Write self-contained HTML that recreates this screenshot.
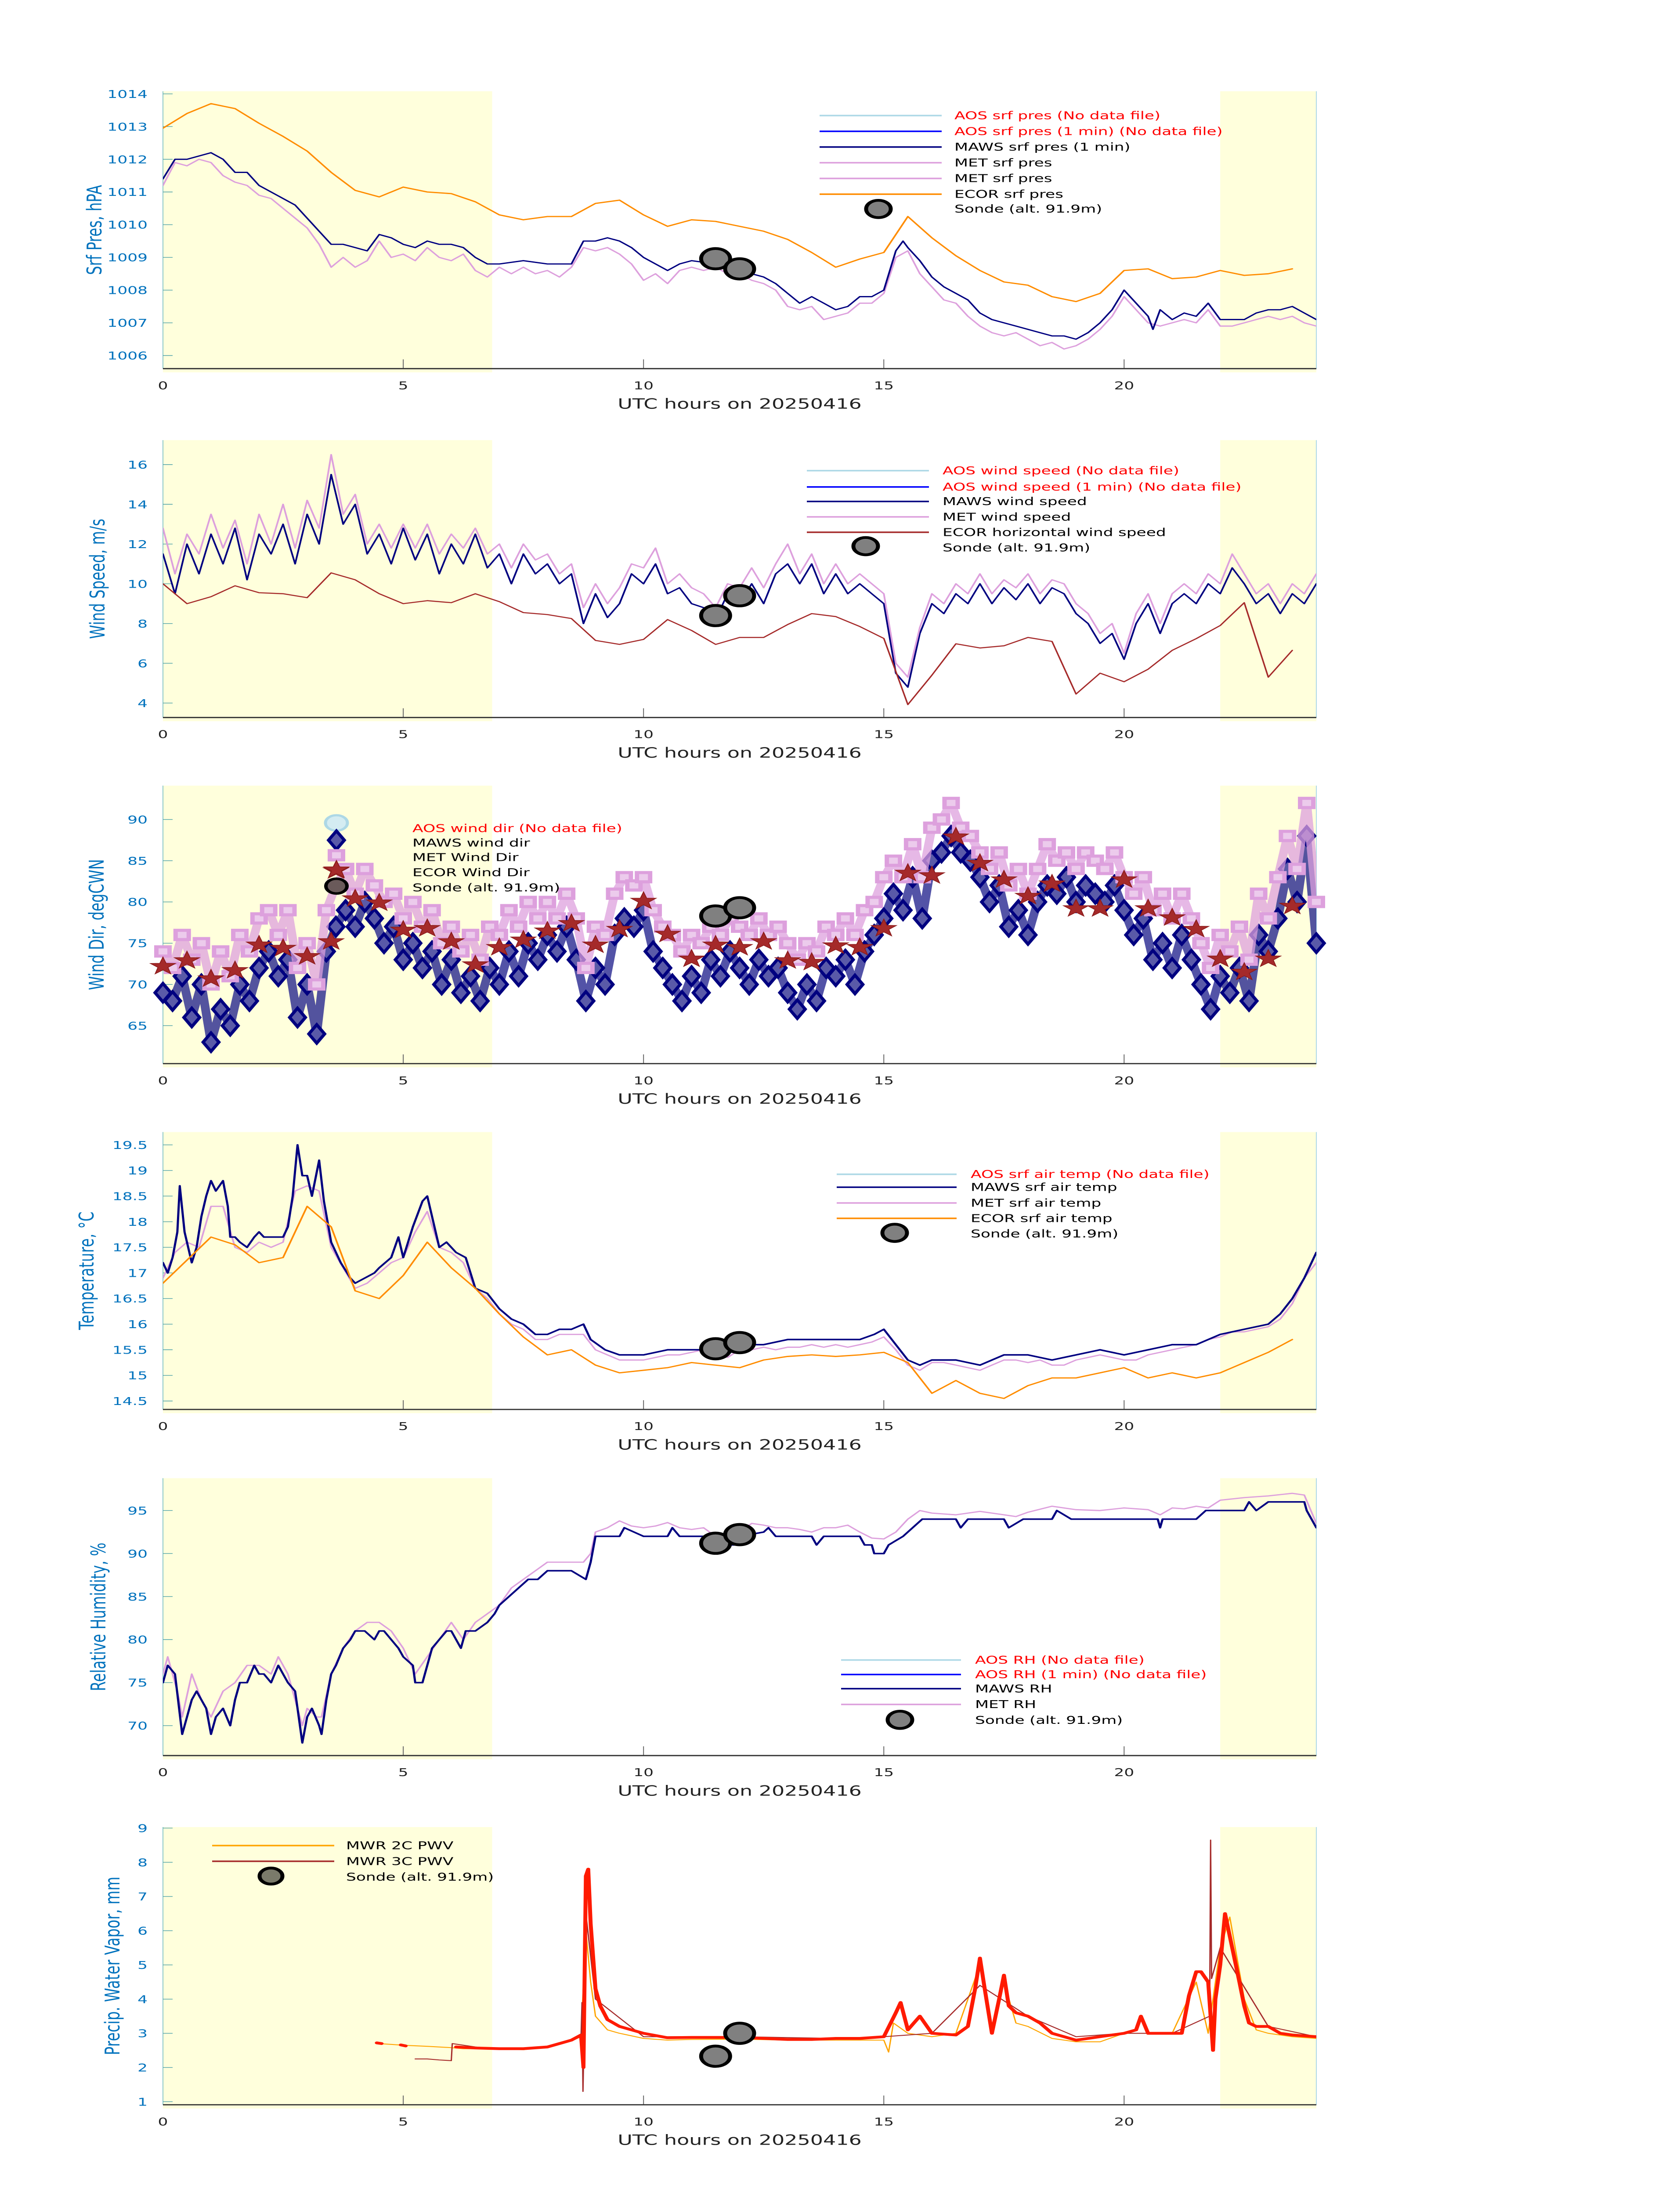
<!DOCTYPE html>
<html><head><meta charset="utf-8"><title>Surface met timeseries 20250416</title>
<style>
html,body{margin:0;padding:0;background:#fff;width:100%;height:100%;overflow:hidden;}
svg{display:block;position:absolute;left:0;top:0;width:100vw;height:100vh;font-family:"DejaVu Sans","Liberation Sans",sans-serif;}
</style></head>
<body>
<svg id="fig" xmlns="http://www.w3.org/2000/svg" viewBox="0 0 3825 7125" preserveAspectRatio="none">
<rect x="0" y="0" width="3825" height="7125" fill="#ffffff"/>
</svg>
<script>
// ---------- Panel 1: surface pressure ----------
const presMawsT = [0,0.25,0.5,0.75,1,1.25,1.5,1.75,2,2.25,2.5,2.75,3,3.25,3.5,3.75,4,4.25,4.5,4.75,5,5.25,5.5,5.75,6,6.25,6.5,6.75,7,7.5,8,8.5,8.75,9,9.25,9.5,9.75,10,10.25,10.5,10.75,11,11.5,12,12.25,12.5,12.75,13,13.25,13.5,13.75,14,14.25,14.5,14.75,15,15.25,15.4,15.5,15.75,16,16.25,16.5,16.75,17,17.25,17.5,17.75,18,18.25,18.5,18.75,19,19.25,19.5,19.75,20,20.25,20.5,20.6,20.75,21,21.25,21.5,21.75,22,22.25,22.5,22.75,23,23.25,23.5,23.75,24];
const presMaws = [1011.4,1012.0,1012.0,1012.1,1012.2,1012.0,1011.6,1011.6,1011.2,1011.0,1010.8,1010.6,1010.2,1009.8,1009.4,1009.4,1009.3,1009.2,1009.7,1009.6,1009.4,1009.3,1009.5,1009.4,1009.4,1009.3,1009.0,1008.8,1008.8,1008.9,1008.8,1008.8,1009.5,1009.5,1009.6,1009.5,1009.3,1009.0,1008.8,1008.6,1008.8,1008.9,1008.8,1008.7,1008.5,1008.4,1008.2,1007.9,1007.6,1007.8,1007.6,1007.4,1007.5,1007.8,1007.8,1008.0,1009.2,1009.5,1009.3,1008.9,1008.4,1008.1,1007.9,1007.7,1007.3,1007.1,1007.0,1006.9,1006.8,1006.7,1006.6,1006.6,1006.5,1006.7,1007.0,1007.4,1008.0,1007.6,1007.2,1006.8,1007.4,1007.1,1007.3,1007.2,1007.6,1007.1,1007.1,1007.1,1007.3,1007.4,1007.4,1007.5,1007.3,1007.1];
const presMet = [1011.2,1011.9,1011.8,1012.0,1011.9,1011.5,1011.3,1011.2,1010.9,1010.8,1010.5,1010.2,1009.9,1009.4,1008.7,1009.0,1008.7,1008.9,1009.5,1009.0,1009.1,1008.9,1009.3,1009.0,1008.9,1009.1,1008.6,1008.4,1008.7,1008.5,1008.7,1008.5,1008.6,1008.4,1008.7,1009.3,1009.2,1009.3,1009.1,1008.8,1008.3,1008.5,1008.2,1008.6,1008.7,1008.6,1008.7,1008.5,1008.5,1008.3,1008.2,1008.0,1007.5,1007.4,1007.5,1007.1,1007.2,1007.3,1007.6,1007.6,1007.9,1009.0,1009.2,1008.5,1008.1,1007.7,1007.6,1007.2,1006.9,1006.7,1006.6,1006.7,1006.5,1006.3,1006.4,1006.2,1006.3,1006.5,1006.8,1007.2,1007.8,1007.4,1007.0,1006.9,1007.0,1007.1,1007.0,1007.4,1006.9,1006.9,1007.0,1007.1,1007.2,1007.1,1007.2,1007.0,1006.9];
const presEcorT = [0,0.5,1,1.5,2,2.5,3,3.5,4,4.5,5,5.5,6,6.5,7,7.5,8,8.5,9,9.5,10,10.5,11,11.5,12,12.5,13,13.5,14,14.5,15,15.5,16,16.5,17,17.5,18,18.5,19,19.5,20,20.5,21,21.5,22,22.5,23,23.5];
const presEcor = [1012.95,1013.4,1013.7,1013.55,1013.1,1012.7,1012.25,1011.6,1011.05,1010.85,1011.15,1011.0,1010.95,1010.7,1010.3,1010.15,1010.25,1010.25,1010.65,1010.75,1010.3,1009.95,1010.15,1010.1,1009.95,1009.8,1009.55,1009.15,1008.7,1008.95,1009.15,1010.25,1009.6,1009.05,1008.6,1008.25,1008.15,1007.8,1007.65,1007.9,1008.6,1008.65,1008.35,1008.4,1008.6,1008.45,1008.5,1008.65];
const presSondeT = [11.5,12.0];
const presSonde = [1008.96,1008.65];
const presTicks = [1006,1007,1008,1009,1010,1011,1012,1013,1014];

// ---------- Panel 2: wind speed ----------
const wsMaws = [11.5,9.5,12.0,10.5,12.5,11.0,12.8,10.2,12.5,11.5,13.0,11.0,13.5,12.0,15.5,13.0,14.0,11.5,12.5,11.0,12.8,11.2,12.5,10.5,12.0,11.0,12.5,10.8,11.5,10.0,11.5,10.5,11.0,10.0,10.5,8.0,9.5,8.3,9.0,10.5,10.0,11.0,9.5,9.8,9.0,8.8,8.2,9.5,9.0,10.0,9.0,10.5,11.0,10.0,11.0,9.5,10.5,9.5,10.0,9.5,9.0,5.5,4.8,7.5,9.0,8.5,9.5,9.0,10.0,9.0,9.8,9.2,10.0,9.0,9.8,9.5,8.5,8.0,7.0,7.5,6.2,8.0,9.0,7.5,9.0,9.5,9.0,10.0,9.5,10.8,10.0,9.0,9.5,8.5,9.5,9.0,10.0];
const wsMet = [12.8,10.5,12.5,11.5,13.5,11.8,13.2,11.0,13.5,12.0,14.0,11.8,14.2,12.8,16.5,13.5,14.5,12.0,13.0,11.8,13.0,11.8,13.0,11.5,12.5,11.8,12.8,11.5,12.0,10.8,12.0,11.2,11.5,10.5,11.0,8.8,10.0,9.0,9.8,11.0,10.8,11.8,10.0,10.5,9.8,9.5,8.8,10.0,9.8,10.8,9.8,11.0,12.0,10.5,11.5,10.0,11.0,10.0,10.5,10.0,9.5,6.0,5.3,7.8,9.5,9.0,10.0,9.5,10.5,9.5,10.2,9.8,10.5,9.5,10.2,10.0,9.0,8.5,7.5,8.0,6.5,8.5,9.5,8.0,9.5,10.0,9.5,10.5,10.0,11.5,10.5,9.5,10.0,9.0,10.0,9.5,10.5];
const wsEcorT = [0,0.5,1,1.5,2,2.5,3,3.5,4,4.5,5,5.5,6,6.5,7,7.5,8,8.5,9,9.5,10,10.5,11,11.5,12,12.5,13,13.5,14,14.5,15,15.5,16,16.5,17,17.5,18,18.5,19,19.5,20,20.5,21,21.5,22,22.5,23,23.5];
const wsEcor = [10.0,9.0,9.35,9.9,9.55,9.5,9.3,10.55,10.2,9.5,9.0,9.15,9.05,9.5,9.1,8.55,8.45,8.25,7.15,6.95,7.2,8.2,7.65,6.95,7.3,7.3,7.95,8.5,8.35,7.85,7.25,3.92,5.4,6.98,6.77,6.88,7.3,7.1,4.45,5.5,5.07,5.7,6.65,7.24,7.9,9.05,5.3,6.65];
const wsSondeT = [11.5,12.0];
const wsSonde = [8.4,9.4];
const wsTicks = [4,6,8,10,12,14,16];

// ---------- Panel 3: wind direction ----------
const wdMaws = [69,68,71,66,70,63,67,65,70,68,72,74,71,73,66,70,64,74,77,79,77,80,78,75,77,73,75,72,74,70,73,69,71,68,72,70,74,71,75,73,76,74,77,73,68,72,70,76,78,77,79,74,72,70,68,71,69,73,71,74,72,70,73,71,72,69,67,70,68,72,71,73,70,74,76,78,81,79,83,78,85,86,88,86,85,83,80,82,77,79,76,80,82,81,83,80,82,81,80,82,79,76,78,73,75,72,76,73,70,67,71,69,72,68,76,74,78,84,80,88,75];
const wdMet = [74,72,76,73,75,70,74,71,76,74,78,79,76,79,72,75,70,79,82,84,81,84,82,80,81,78,80,77,79,75,77,74,76,73,77,76,79,77,80,78,80,78,81,78,72,77,76,81,83,82,83,79,77,76,74,76,75,77,76,78,77,76,78,76,77,75,73,75,74,77,76,78,76,79,80,83,85,83,87,83,89,90,92,89,88,86,84,86,82,84,81,84,87,85,86,84,86,85,84,86,83,81,83,79,81,78,81,78,75,72,76,74,77,73,81,78,83,88,84,92,80];
const wdEcorT = [0,0.5,1,1.5,2,2.5,3,3.5,3.6,4,4.5,5,5.5,6,6.5,7,7.5,8,8.5,9,9.5,10,10.5,11,11.5,12,12.5,13,13.5,14,14.5,15,15.5,16,16.5,17,17.5,18,18.5,19,19.5,20,20.5,21,21.5,22,22.5,23,23.5];
const wdEcor = [72.2,72.9,70.7,71.7,74.8,74.4,73.4,75.2,83.8,80.4,79.9,76.6,76.8,75.2,72.4,74.5,75.4,76.5,77.4,74.8,76.7,80.1,76.1,73.1,74.8,74.5,75.2,72.9,72.7,74.7,74.5,76.8,83.5,83.2,87.9,84.7,82.7,80.7,82.2,79.2,79.2,82.7,79.2,78.1,76.7,73.1,71.5,73.1,79.5];
const wdSondeT = [11.5,12.0];
const wdSonde = [78.3,79.3];
const wdTicks = [65,70,75,80,85,90];

// ---------- Panel 4: temperature ----------
const tMawsT = [0,0.1,0.2,0.3,0.35,0.45,0.6,0.7,0.8,0.9,1.0,1.1,1.25,1.35,1.4,1.5,1.6,1.75,1.9,2.0,2.1,2.3,2.5,2.6,2.7,2.8,2.9,3.0,3.1,3.25,3.35,3.5,3.7,3.9,4.0,4.2,4.4,4.5,4.75,4.9,5.0,5.2,5.4,5.5,5.6,5.75,5.9,6.1,6.3,6.5,6.75,7.0,7.25,7.5,7.75,8.0,8.25,8.5,8.75,8.9,9.2,9.5,10,10.5,11,11.5,11.75,12,12.5,13,13.5,14,14.5,14.8,15,15.25,15.5,15.75,16,16.5,17,17.5,18,18.5,19,19.5,20,20.5,21,21.5,22,22.5,23,23.25,23.5,23.75,24];
const tMaws = [17.2,17.0,17.3,17.8,18.7,17.8,17.2,17.5,18.1,18.5,18.8,18.6,18.8,18.3,17.7,17.7,17.6,17.5,17.7,17.8,17.7,17.7,17.7,17.9,18.5,19.5,18.9,18.9,18.5,19.2,18.4,17.6,17.2,16.9,16.8,16.9,17.0,17.1,17.3,17.7,17.3,17.9,18.4,18.5,18.1,17.5,17.6,17.4,17.3,16.7,16.6,16.3,16.1,16.0,15.8,15.8,15.9,15.9,16.0,15.7,15.5,15.4,15.4,15.5,15.5,15.5,15.4,15.6,15.6,15.7,15.7,15.7,15.7,15.8,15.9,15.6,15.3,15.2,15.3,15.3,15.2,15.4,15.4,15.3,15.4,15.5,15.4,15.5,15.6,15.6,15.8,15.9,16.0,16.2,16.5,16.9,17.4];
const tMet = [16.9,17.4,17.6,17.5,18.3,18.3,17.5,17.4,17.6,17.5,17.6,18.6,18.7,18.6,17.5,17.1,16.7,16.8,17.0,17.2,17.3,17.8,18.2,17.5,17.4,17.2,16.7,16.5,16.2,16.0,15.9,15.7,15.7,15.8,15.8,15.8,15.5,15.4,15.3,15.3,15.3,15.35,15.4,15.4,15.45,15.5,15.45,15.35,15.5,15.5,15.55,15.5,15.55,15.55,15.6,15.55,15.6,15.55,15.6,15.65,15.75,15.5,15.2,15.1,15.25,15.25,15.2,15.15,15.1,15.2,15.3,15.3,15.25,15.3,15.2,15.2,15.3,15.35,15.4,15.35,15.3,15.3,15.4,15.45,15.5,15.55,15.6,15.7,15.75,15.85,15.85,15.9,15.95,16.1,16.4,16.9,17.2];
const tEcorT = [0,0.5,1,1.5,2,2.5,3,3.5,4,4.5,5,5.5,6,6.5,7,7.5,8,8.5,9,9.5,10,10.5,11,11.5,12,12.5,13,13.5,14,14.5,15,15.5,16,16.5,17,17.5,18,18.5,19,19.5,20,20.5,21,21.5,22,22.5,23,23.5];
const tEcor = [16.8,17.25,17.7,17.55,17.2,17.3,18.3,17.9,16.65,16.5,16.95,17.6,17.1,16.7,16.2,15.75,15.4,15.5,15.2,15.05,15.1,15.15,15.25,15.2,15.15,15.3,15.37,15.4,15.37,15.4,15.45,15.25,14.65,14.9,14.65,14.55,14.8,14.95,14.95,15.05,15.15,14.95,15.05,14.95,15.05,15.25,15.45,15.7];
const tSondeT = [11.5,12.0];
const tSonde = [15.52,15.64];
const tTicks = [14.5,15,15.5,16,16.5,17,17.5,18,18.5,19,19.5];

// ---------- Panel 5: relative humidity ----------
const rhMawsT = [0,0.1,0.25,0.4,0.5,0.6,0.7,0.8,0.9,1.0,1.1,1.25,1.4,1.5,1.6,1.75,1.9,2,2.1,2.25,2.4,2.5,2.6,2.75,2.8,2.9,3.0,3.1,3.25,3.3,3.4,3.5,3.6,3.75,3.9,4.0,4.2,4.4,4.5,4.6,4.75,4.9,5.0,5.2,5.25,5.4,5.5,5.6,5.75,5.9,6.0,6.2,6.3,6.5,6.75,6.9,7.0,7.2,7.4,7.6,7.8,8.0,8.5,8.8,8.9,9.0,9.5,9.6,10,10.5,10.6,10.75,11.5,11.6,11.9,12.0,12.5,12.6,12.75,13,13.5,13.6,13.75,14,14.5,14.6,14.75,14.8,15.0,15.1,15.4,15.6,15.8,16,16.5,16.6,16.75,17,17.5,17.6,17.9,18,18.5,18.6,18.9,20,20.7,20.75,20.8,21.5,21.7,22,22.5,22.6,22.75,23,23.5,23.75,23.8,24];
const rhMaws = [75,77,76,69,71,73,74,73,72,69,71,72,70,73,75,75,77,76,76,75,77,76,75,74,72,68,71,72,70,69,73,76,77,79,80,81,81,80,81,81,80,79,78,77,75,75,77,79,80,81,81,79,81,81,82,83,84,85,86,87,87,88,88,87,89,92,92,93,92,92,93,92,92,91,91,92,92.5,93,92,92,92,91,92,92,92,91,91,90,90,91,92,93,94,94,94,93,94,94,94,93,94,94,94,95,94,94,94,93,94,94,95,95,95,96,95,96,96,96,95,93];
const rhMetT = [0,0.1,0.3,0.4,0.6,0.8,1,1.25,1.5,1.75,2,2.25,2.4,2.6,2.75,2.9,3.0,3.2,3.3,3.5,3.75,4.0,4.25,4.5,4.75,5,5.25,5.5,5.75,6.0,6.25,6.5,6.75,7,7.25,7.5,7.75,8,8.25,8.5,8.75,8.9,9.0,9.25,9.5,9.75,10,10.25,10.5,10.75,11,11.25,11.5,12,12.25,12.5,12.75,13,13.25,13.5,13.75,14,14.25,14.5,14.75,15,15.25,15.5,15.75,16,16.5,17,17.5,17.75,18,18.5,19,19.5,20,20.5,20.75,21,21.25,21.5,21.75,22,22.5,23,23.5,23.75,24];
const rhMet = [76,78,74,71,76,73,71,74,75,77,77,76,78,76,73,70,72,71,71,76,79,81,82,82,81,79,76,78,80,82,80,82,83,84,86,87,88,89,89,89,89,90,92.5,93,93.8,93.2,93,93.2,93.6,93,92.8,93,92,92.5,93.5,93.3,93,93,92.8,92.5,93,93,93.3,92.5,91.8,91.7,92.5,94,95,94.7,94.5,94.9,94.5,94.3,94.8,95.5,95.1,95,95.3,95.1,94.5,95.3,95.2,95.5,95.3,96.2,96.5,96.7,97.0,96.8,93.5];
const rhSondeT = [11.5,12.0];
const rhSonde = [91.2,92.2];
const rhTicks = [70,75,80,85,90,95];

// ---------- Panel 6: precipitable water vapor ----------
const pwv2cT = [4.5,5,5.5,6.0,6.25,6.5,7,7.5,8,8.5,8.7,8.8,8.9,9.0,9.25,9.5,10,10.5,11,12,13,14,15,15.1,15.2,15.5,16,16.5,17,17.25,17.5,17.75,18,18.5,19,19.5,20,20.5,21,21.5,21.75,22,22.2,22.5,22.75,23,23.5,24];
const pwv2c = [2.7,2.65,2.62,2.58,2.55,2.55,2.55,2.52,2.6,2.78,2.9,6.0,4.5,3.5,3.1,3.0,2.85,2.8,2.82,2.83,2.8,2.8,2.8,2.45,3.3,3.0,2.9,3.0,5.0,3.0,4.5,3.3,3.2,2.85,2.75,2.75,3.0,3.0,3.0,4.5,3.0,5.5,6.4,4.0,3.1,3.0,2.9,2.85];
const pwv3cT = [5.25,5.5,5.75,6.0,6.02,6.5,7,8,8.5,8.7,8.72,8.74,8.76,8.8,9,10,12,14,15,16,17,18,19,20,21,21.78,21.8,21.82,22,23,24];
const pwv3c = [2.25,2.25,2.22,2.2,2.7,2.6,2.55,2.6,2.8,2.9,3.9,1.3,2.8,6.5,4.0,2.9,2.9,2.85,2.9,3.0,4.4,3.5,2.9,3.0,3.0,3.5,8.65,4.6,5.5,3.2,2.9];
const pwvQcT = [4.45,4.55,null,4.95,5.05,null,6.1,6.5,7,7.5,8,8.25,8.5,8.7,8.75,8.8,8.85,8.9,9.0,9.1,9.25,9.5,9.75,10,10.5,11,11.5,12,12.5,13,13.5,14,14.5,15,15.25,15.35,15.5,15.75,16,16.5,16.75,16.9,17.0,17.1,17.25,17.4,17.5,17.6,17.75,18,18.25,18.5,18.75,19,19.5,20,20.25,20.35,20.5,21,21.2,21.35,21.5,21.6,21.75,21.85,21.9,22.0,22.1,22.25,22.4,22.5,22.6,22.75,23,23.25,23.5,24];
const pwvQc = [2.72,2.7,null,2.66,2.63,null,2.6,2.57,2.55,2.55,2.6,2.7,2.8,2.95,2.0,7.6,7.8,6.2,4.3,3.8,3.4,3.2,3.1,3.0,2.87,2.88,2.88,2.88,2.85,2.82,2.82,2.85,2.85,2.9,3.6,3.9,3.1,3.5,3.0,2.95,3.2,4.3,5.2,4.3,3.0,4.0,4.7,3.8,3.6,3.5,3.3,3.0,2.9,2.8,2.9,3.0,3.1,3.5,3.0,3.0,3.0,4.1,4.8,4.8,4.5,2.5,4.0,5.0,6.5,5.5,4.5,3.8,3.3,3.2,3.2,3.0,2.95,2.9];
const pwvSondeT = [11.5,12.0];
const pwvSonde = [2.33,3.0];
const pwvTicks = [1,2,3,4,5,6,7,8,9];

const xTicks = [0,5,10,15,20];
const xTickLabels = ['0','5','10','15','20'];

// ---------- drawing ----------
const NS = 'http://www.w3.org/2000/svg';
const svg = document.getElementById('fig');
const X0 = 371, X1 = 2997;
function xs(h){ return X0 + h*(X1-X0)/24; }
function ys(p,v){ return p.top + (p.ymax-v)/(p.ymax-p.ymin)*(p.bot-p.top); }
function mk(tag, parent){ const e = document.createElementNS(NS, tag); (parent||svg).appendChild(e); return e; }

const P = [
 {top:296, bot:1196, ymin:1005.6, ymax:1014.08, ticks:presTicks, title:'Srf Pres, hPA', tx:215, tlen:292},
 {top:1428, bot:2328, ymin:3.27, ymax:17.23, ticks:wsTicks, title:'Wind Speed, m/s', tx:222, tlen:390},
 {top:2549, bot:3451, ymin:60.4, ymax:94.1, ticks:wdTicks, title:'Wind Dir, degCWN', tx:220, tlen:425},
 {top:3673, bot:4573, ymin:14.335, ymax:19.75, ticks:tTicks, title:'Temperature, \u00B0C', tx:197, tlen:384},
 {top:4796, bot:5696, ymin:66.52, ymax:98.76, ticks:rhTicks, title:'Relative Humidity, %', tx:224, tlen:482},
 {top:5928, bot:6829, ymin:0.91, ymax:9.03, ticks:pwvTicks, title:'Precip. Water Vapor, mm', tx:256, tlen:579}
];
const defs = mk('defs');

P.forEach(function(p, i){
  const g = mk('g');
  
  
  p.g = g;
  const cp = mk('clipPath', defs);
  cp.setAttribute('id', 'clip' + i);
  const cr = mk('rect', cp);
  cr.setAttribute('x', X0); cr.setAttribute('y', p.top); cr.setAttribute('width', X1-X0); cr.setAttribute('height', p.bot-p.top);
  [[0,6.85],[22,24]].forEach(function(b, j){
    const r = mk('rect', g);
    
    
    r.setAttribute('x', xs(b[0])); r.setAttribute('y', p.top);
    r.setAttribute('width', xs(b[1])-xs(b[0])); r.setAttribute('height', p.bot-p.top+12);
    r.setAttribute('fill', '#ffffdc');
  });
  const la = mk('line', g);
  
  
  la.setAttribute('x1', X0); la.setAttribute('x2', X0); la.setAttribute('y1', p.top); la.setAttribute('y2', p.bot);
  la.setAttribute('stroke', '#8cc8c8'); la.setAttribute('stroke-width', 2);
  const ra = mk('line', g);
  
  
  ra.setAttribute('x1', X1); ra.setAttribute('x2', X1); ra.setAttribute('y1', p.top); ra.setAttribute('y2', p.bot);
  ra.setAttribute('stroke', '#add8e6'); ra.setAttribute('stroke-width', 2);
  p.ticks.forEach(function(v){
    const t = mk('line', g);
    
    
    t.setAttribute('x1', X0); t.setAttribute('x2', X0+22); t.setAttribute('y1', ys(p,v)); t.setAttribute('y2', ys(p,v));
    t.setAttribute('stroke', '#4a9fa8'); t.setAttribute('stroke-width', 2);
    const tl = mk('text', g);
    
    
    tl.setAttribute('x', 336); tl.setAttribute('y', ys(p,v)+13);
    tl.setAttribute('text-anchor', 'end'); tl.setAttribute('font-size', 36); tl.setAttribute('fill', '#0072bd');
    tl.textContent = String(v);
  });
  xTicks.forEach(function(h, k){
    if (h > 0) {
      const t = mk('line', g);
      
      
      t.setAttribute('x1', xs(h)); t.setAttribute('x2', xs(h)); t.setAttribute('y1', p.bot); t.setAttribute('y2', p.bot-30);
      t.setAttribute('stroke', '#666'); t.setAttribute('stroke-width', 2);
    }
    const tl = mk('text', g);
    
    
    tl.setAttribute('x', xs(h)); tl.setAttribute('y', p.bot+67);
    tl.setAttribute('text-anchor', 'middle'); tl.setAttribute('font-size', 36); tl.setAttribute('fill', '#222');
    tl.textContent = xTickLabels[k];
  });
  const xl = mk('text', g);
  
  
  xl.setAttribute('x', (X0+X1)/2); xl.setAttribute('y', p.bot+130);
  xl.setAttribute('text-anchor', 'middle'); xl.setAttribute('font-size', 46); xl.setAttribute('fill', '#222');
  xl.textContent = 'UTC hours on 20250416';
  const yl = mk('text', g);
  
  
  const cy = (p.top+p.bot)/2;
  yl.setAttribute('transform', 'translate(' + (p.tx+16) + ',' + cy + ') rotate(-90)');
  yl.setAttribute('text-anchor', 'middle'); yl.setAttribute('font-size', 46); yl.setAttribute('fill', '#0072bd');
  yl.setAttribute('textLength', p.tlen); yl.setAttribute('lengthAdjust', 'spacing');
  yl.textContent = p.title;
});

function series(p, i, T, V, color, w, name){
  let d = '', pen = false;
  for (let k = 0; k < T.length && k < V.length; k++){
    if (T[k] === null || V[k] === null){ pen = false; continue; }
    d += (pen ? 'L' : 'M') + xs(T[k]).toFixed(1) + ',' + ys(p, V[k]).toFixed(1);
    pen = true;
  }
  const e = mk('path', p.g);
  
  
  e.setAttribute('d', d); e.setAttribute('fill', 'none'); e.setAttribute('stroke', color);
  e.setAttribute('stroke-width', w); e.setAttribute('stroke-linejoin', 'round'); e.setAttribute('stroke-linecap', 'round');
  e.setAttribute('clip-path', 'url(#clip' + i + ')');
  return e;
}
function grid(n, step){ const a = []; for (let k = 0; k < n; k++) a.push(+(k*step).toFixed(3)); return a; }
function circle(parent, cx, cy, r, fill, stroke, sw, name){
  const c = mk('circle', parent);
  
  
  c.setAttribute('cx', cx); c.setAttribute('cy', cy); c.setAttribute('r', r);
  c.setAttribute('fill', fill); c.setAttribute('stroke', stroke); c.setAttribute('stroke-width', sw);
  return c;
}
function diamond(parent, cx, cy, name){
  const e = mk('path', parent);
  
  
  e.setAttribute('d', 'M' + cx + ',' + (cy-30) + 'L' + (cx+18) + ',' + cy + 'L' + cx + ',' + (cy+30) + 'L' + (cx-18) + ',' + cy + 'Z');
  e.setAttribute('fill', '#5a5aa8'); e.setAttribute('stroke', '#000080'); e.setAttribute('stroke-width', 8);
}
function square(parent, cx, cy, name){
  const e = mk('rect', parent);
  
  
  e.setAttribute('x', cx-15); e.setAttribute('y', cy-15); e.setAttribute('width', 30); e.setAttribute('height', 30);
  e.setAttribute('fill', '#eccbec'); e.setAttribute('stroke', '#dda0dd'); e.setAttribute('stroke-width', 10);
}
function star(parent, cx, cy, r, name){
  let d = '';
  for (let k = 0; k < 10; k++){
    const a = -Math.PI/2 + k*Math.PI/5, rr = (k%2 === 0) ? r : r*0.4;
    d += (k === 0 ? 'M' : 'L') + (cx + rr*Math.cos(a)).toFixed(1) + ',' + (cy + rr*Math.sin(a)).toFixed(1);
  }
  const e = mk('path', parent);
  
  
  e.setAttribute('d', d + 'Z'); e.setAttribute('fill', '#a52a2a'); e.setAttribute('stroke', '#8b1a1a'); e.setAttribute('stroke-width', 2);
}
function legendLine(parent, x1, x2, y, color, w){
  const e = mk('line', parent);
  
  
  e.setAttribute('x1', x1); e.setAttribute('x2', x2); e.setAttribute('y1', y); e.setAttribute('y2', y);
  e.setAttribute('stroke', color); e.setAttribute('stroke-width', w);
}
function legendText(parent, x, y, txt, color){
  const e = mk('text', parent);
  
  
  e.setAttribute('x', x); e.setAttribute('y', y + 12); e.setAttribute('font-size', 36); e.setAttribute('fill', color);
  e.textContent = txt;
}
function sondes(p, T, V){
  for (let k = 0; k < T.length; k++) circle(p.g, xs(T[k]), ys(p, V[k]), 33, '#808080', '#000', 9, 'sonde-marker');
}

// Panel 1
(function(){
  const p = P[0];
  series(p, 0, grid(presMet.length, 0.25), presMet, '#dda0dd', 4, 'met-srf-pres-line');
  series(p, 0, presMawsT, presMaws, '#000080', 4, 'maws-srf-pres-line');
  series(p, 0, presEcorT, presEcor, '#ff8c00', 4, 'ecor-srf-pres-line');
  sondes(p, presSondeT, presSonde);
  const L = mk('g');  
  const rows = [['AOS srf pres (No data file)', '#add8e6', '#ff0000'], ['AOS srf pres (1 min) (No data file)', '#0000ff', '#ff0000'], ['MAWS srf pres (1 min)', '#000080', '#000'], ['MET srf pres', '#dda0dd', '#000'], ['MET srf pres', '#dda0dd', '#000'], ['ECOR srf pres', '#ff8c00', '#000']];
  rows.forEach(function(r, k){ const y = 375 + k*51; legendLine(L, 1866, 2144, y, r[1], 5); legendText(L, 2173, y, r[0], r[2]); });
  circle(L, 2000, 678, 28, '#808080', '#000', 9, 'legend-sonde-marker');
  legendText(L, 2173, 678, 'Sonde (alt. 91.9m)', '#000');
})();

// Panel 2
(function(){
  const p = P[1];
  series(p, 1, grid(wsMaws.length, 0.25), wsMaws, '#000080', 4, 'maws-wind-speed-line');
  series(p, 1, grid(wsMet.length, 0.25), wsMet, '#dda0dd', 4, 'met-wind-speed-line');
  series(p, 1, wsEcorT, wsEcor, '#a52a2a', 3.5, 'ecor-wind-speed-line');
  sondes(p, wsSondeT, wsSonde);
  const L = mk('g');  
  const rows = [['AOS wind speed (No data file)', '#add8e6', '#ff0000', 1527], ['AOS wind speed (1 min) (No data file)', '#0000ff', '#ff0000', 1580], ['MAWS wind speed', '#000080', '#000', 1627], ['MET wind speed', '#dda0dd', '#000', 1677], ['ECOR horizontal wind speed', '#a52a2a', '#000', 1727]];
  rows.forEach(function(r){ legendLine(L, 1837, 2115, r[3], r[1], 5); legendText(L, 2146, r[3], r[0], r[2]); });
  circle(L, 1971, 1772, 28, '#808080', '#000', 9, 'legend-sonde-marker');
  legendText(L, 2146, 1777, 'Sonde (alt. 91.9m)', '#000');
})();

// Panel 3
(function(){
  const p = P[2];
  const gt = grid(wdMaws.length, 0.2);
  const gm = grid(wdMet.length, 0.2);
  const band1 = series(p, 2, gt, wdMaws, '#1a1a8a', 20, 'maws-wind-dir-band');
  band1.setAttribute('opacity', '0.75');
  for (let k = 0; k < wdMaws.length; k++) diamond(p.g, xs(gt[k]), ys(p, wdMaws[k]), 'maws-wind-dir-point');
  const band2 = series(p, 2, gm, wdMet, '#dda0dd', 20, 'met-wind-dir-band');
  band2.setAttribute('opacity', '0.75');
  for (let k = 0; k < wdMet.length; k++) square(p.g, xs(gm[k]), ys(p, wdMet[k]), 'met-wind-dir-point');
  for (let k = 0; k < wdEcorT.length; k++) star(p.g, xs(wdEcorT[k]), ys(p, wdEcor[k]), 30, 'ecor-wind-dir-point');
  sondes(p, wdSondeT, wdSonde);
  const L = mk('g');  
  circle(L, 766, 2670, 25, '#d4ecf2', '#add8e6', 7, 'legend-aos-marker');
  legendText(L, 939, 2688, 'AOS wind dir (No data file)', '#ff0000');
  diamond(L, 766, 2726, 'legend-maws-marker');
  legendText(L, 939, 2735, 'MAWS wind dir', '#000');
  square(L, 766, 2775, 'legend-met-marker');
  legendText(L, 939, 2782, 'MET Wind Dir', '#000');
  star(L, 766, 2822, 30, 'legend-ecor-marker');
  legendText(L, 939, 2831, 'ECOR Wind Dir', '#000');
  circle(L, 766, 2875, 24, '#6a5a5a', '#000', 8, 'legend-sonde-marker');
  legendText(L, 939, 2880, 'Sonde (alt. 91.9m)', '#000');
})();

// Panel 4
(function(){
  const p = P[3];
  series(p, 3, grid(tMet.length, 0.25), tMet, '#dda0dd', 4, 'met-air-temp-line');
  series(p, 3, tMawsT, tMaws, '#000080', 5, 'maws-air-temp-line');
  series(p, 3, tEcorT, tEcor, '#ff8c00', 4, 'ecor-air-temp-line');
  sondes(p, tSondeT, tSonde);
  const L = mk('g');  
  const rows = [['AOS srf air temp (No data file)', '#add8e6', '#ff0000', 3810], ['MAWS srf air temp', '#000080', '#000', 3852], ['MET srf air temp', '#dda0dd', '#000', 3903], ['ECOR srf air temp', '#ff8c00', '#000', 3953]];
  rows.forEach(function(r){ legendLine(L, 1905, 2178, r[3], r[1], 5); legendText(L, 2210, r[3], r[0], r[2]); });
  circle(L, 2037, 4000, 28, '#808080', '#000', 9, 'legend-sonde-marker');
  legendText(L, 2210, 4003, 'Sonde (alt. 91.9m)', '#000');
})();

// Panel 5
(function(){
  const p = P[4];
  series(p, 4, rhMetT, rhMet, '#dda0dd', 4, 'met-rh-line');
  series(p, 4, rhMawsT, rhMaws, '#000080', 5, 'maws-rh-line');
  sondes(p, rhSondeT, rhSonde);
  const L = mk('g');  
  const rows = [['AOS RH (No data file)', '#add8e6', '#ff0000', 5386], ['AOS RH (1 min) (No data file)', '#0000ff', '#ff0000', 5433], ['MAWS RH', '#000080', '#000', 5479], ['MET RH', '#dda0dd', '#000', 5530]];
  rows.forEach(function(r){ legendLine(L, 1915, 2188, r[3], r[1], 5); legendText(L, 2220, r[3], r[0], r[2]); });
  circle(L, 2049, 5580, 28, '#808080', '#000', 9, 'legend-sonde-marker');
  legendText(L, 2220, 5581, 'Sonde (alt. 91.9m)', '#000');
})();

// Panel 6
(function(){
  const p = P[5];
  series(p, 5, pwv2cT, pwv2c, '#ffa500', 3, 'mwr-2c-pwv-line');
  series(p, 5, pwv3cT, pwv3c, '#a52a2a', 3, 'mwr-3c-pwv-line');
  series(p, 5, pwvQcT, pwvQc, '#ff1a00', 9, 'mwr-pwv-points');
  sondes(p, pwvSondeT, pwvSonde);
  const L = mk('g');  
  legendLine(L, 483, 761, 5988, '#ffa500', 5); legendText(L, 788, 5988, 'MWR 2C PWV', '#000');
  legendLine(L, 483, 761, 6039, '#a52a2a', 5); legendText(L, 788, 6039, 'MWR 3C PWV', '#000');
  circle(L, 617, 6087, 26, '#7a7a6a', '#000', 9, 'legend-sonde-marker');
  legendText(L, 788, 6090, 'Sonde (alt. 91.9m)', '#000');
})();

// x axis lines on top
P.forEach(function(p){
  const b = mk('line', p.g);
  
  
  b.setAttribute('x1', X0); b.setAttribute('x2', X1); b.setAttribute('y1', p.bot); b.setAttribute('y2', p.bot);
  b.setAttribute('stroke', '#333'); b.setAttribute('stroke-width', 4);
});
</script>
</body></html>
